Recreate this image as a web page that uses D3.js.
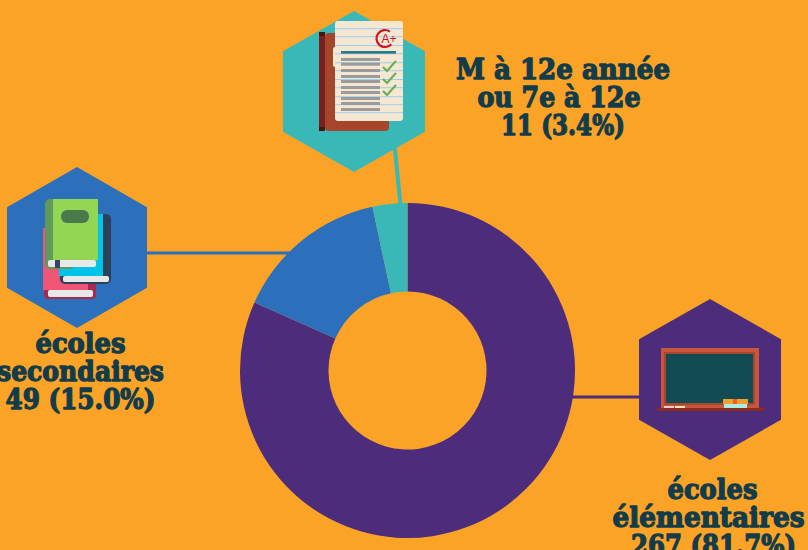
<!DOCTYPE html>
<html lang="fr">
<head>
<meta charset="UTF-8">
<title>Écoles</title>
<style>
  body { margin: 0; background: #fba327; overflow: hidden; }
  svg { display: block; }
  .lbl {
    font-family: "DejaVu Serif", serif;
    font-weight: bold;
    fill: #123c4a;
    stroke: #123c4a;
    stroke-width: 1.3px;
    stroke-linejoin: round;
    text-anchor: middle;
  }
</style>
</head>
<body>
<div id="chart"></div>
<script src="https://cdn.jsdelivr.net/npm/d3@7"></script>
<script>
const categories = ['écoles élémentaires', 'écoles secondaires', 'M à 12e année ou 7e à 12e'];
const counts = [267, 49, 11];
const sliceColors = ['#4e2c7c', '#2c6fba', '#3ab8b8'];
const labelLines = [
  ['écoles', 'élémentaires', '267 (81.7%)'],
  ['écoles', 'secondaires', '49 (15.0%)'],
  ['M à 12e année', 'ou 7e à 12e', '11 (3.4%)']
];
// measured line widths, the original face is narrower than DejaVu Serif
const labelWidths = [
  [90, 192, 165],
  [90, 167, 150],
  [214, 163, 124]
];

const w = 808, h = 550;
const svg = d3.select('#chart').append('svg').attr('width', w).attr('height', h);

// connectors go under the donut and the hexagons
const connectors = [
  { c: 0, x1: 565, y1: 397, x2: 645, y2: 397, sw: 3 },
  { c: 1, x1: 140, y1: 253, x2: 300, y2: 253, sw: 3 },
  { c: 2, x1: 394, y1: 140, x2: 401, y2: 210, sw: 4 }
];
svg.selectAll('line.conn').data(connectors).enter().append('line')
  .attr('class', 'conn')
  .attr('x1', d => d.x1).attr('y1', d => d.y1)
  .attr('x2', d => d.x2).attr('y2', d => d.y2)
  .attr('stroke', d => sliceColors[d.c])
  .attr('stroke-width', d => d.sw);

// donut
const pie = d3.pie().sort(null).value(d => d);
const arc = d3.arc().innerRadius(79).outerRadius(167.5);
svg.append('g')
  .attr('transform', 'translate(407.5,370.5)')
  .selectAll('path')
  .data(pie(counts))
  .enter().append('path')
  .attr('d', arc)
  .attr('fill', (d, i) => sliceColors[i]);

// hexagons
const hexes = [
  { c: 0, cx: 710, cy: 379.5 },
  { c: 1, cx: 77, cy: 247.5, rx: 70 },
  { c: 2, cx: 354, cy: 91.5 }
];
const hexLine = d3.line();
svg.selectAll('path.hex').data(hexes).enter().append('path')
  .attr('class', 'hex')
  .attr('fill', d => sliceColors[d.c])
  .attr('d', d => {
    const rx = d.rx || 71, ry = 80.5;
    return hexLine([
      [d.cx, d.cy - ry], [d.cx + rx, d.cy - ry / 2], [d.cx + rx, d.cy + ry / 2],
      [d.cx, d.cy + ry], [d.cx - rx, d.cy + ry / 2], [d.cx - rx, d.cy - ry / 2]
    ]) + 'Z';
  });

function rects(list) {
  svg.append('g').selectAll('rect').data(list).enter().append('rect')
    .attr('x', d => d[0]).attr('y', d => d[1])
    .attr('width', d => d[2]).attr('height', d => d[3])
    .attr('fill', d => d[4])
    .attr('rx', d => d[5] || 0);
}

// exam paper icon
rects([
  [325, 33, 64, 98, '#a5452a', 4],
  [319, 32, 6, 99, '#7a1f1f'],
  [319, 32, 6, 4, '#4f1212'],
  [319, 127, 6, 4, '#4f1212'],
  [333, 47, 6, 20, '#f6e7d2', 2],
  [335, 21, 68, 100, '#f6e7d2', 3]
]);
rects([28.3, 36.3, 45, 53.3, 62.3, 70.3, 79, 87.3, 96.3, 104.3, 112.3]
  .map(y => [335, y, 68, 0.9, '#93cdf0']));
rects([[341, 51, 55, 2.7, '#2a7a8c']]);
rects([58, 62.7, 69, 75, 80, 86, 91, 97, 102, 108]
  .map(y => [341, y, 39, 3, '#9b9b9b']));
svg.append('g').selectAll('path').data([71, 83, 95]).enter().append('path')
  .attr('d', y => `M383,${y - 4}l4,4l9,-10`)
  .attr('fill', 'none').attr('stroke', '#6bae5a').attr('stroke-width', 2.2);
svg.append('path').attr('d', d3.arc()({ innerRadius: 7.4, outerRadius: 9.6, startAngle: 2.3, endAngle: 6.9 }))
  .attr('transform', 'translate(385,38.5)').attr('fill', '#d5101c');
svg.append('text').attr('x', 389).attr('y', 43).attr('text-anchor', 'middle')
  .attr('font-family', 'Liberation Sans').attr('font-size', 12).attr('fill', '#d5101c').text('A+');

// books icon
rects([
  [44, 232, 52, 67, '#a52c50', 4],
  [43, 228, 45, 62, '#ef5675'],
  [48, 290, 45, 7, '#e8e8e8', 2],
  [60, 214, 51, 70, '#2d4159', 5],
  [59, 214, 44, 62, '#00c4e8'],
  [63, 276, 46, 6, '#e8e8e8', 2],
  [45, 199, 30, 70, '#5f9a5a', 5],
  [53, 199, 45, 61, '#93d655'],
  [48, 260, 48, 7, '#e8e8e8', 2],
  [55, 260, 5, 8, '#3a4466'],
  [61, 210, 28, 13, '#4a7a4a', 6]
]);

// chalkboard icon
rects([
  [661, 348, 98, 60, '#c8553d'],
  [664, 352, 91, 53, '#a5482d'],
  [666, 354, 87, 49, '#134b55'],
  [723, 399, 25, 5, '#f0a030'],
  [724, 404, 23, 4, '#a8eee5'],
  [733, 399, 4, 5, '#f25c1e'],
  [664, 406, 10, 2, '#f0c8d0'],
  [675, 406, 10, 2, '#fbe3b0'],
  [657, 408, 107, 3, '#8b2a1f']
]);

// labels
const labelPos = [
  { x: 708.5, y: 499 },
  { x: 80.5, y: 353 },
  { x: 563, y: 79 }
];
const lineOffsetX = { 0: [4, 0, 5], 2: [0, -4, 0] };
labelLines.forEach((lines, i) => {
  svg.append('g').selectAll('text').data(lines).enter().append('text')
    .attr('class', 'lbl')
    .attr('font-size', 27)
    .attr('x', (d, j) => labelPos[i].x + (lineOffsetX[i] ? lineOffsetX[i][j] : 0))
    .attr('y', (d, j) => labelPos[i].y + j * 28)
    .attr('textLength', (d, j) => labelWidths[i][j])
    .attr('lengthAdjust', 'spacingAndGlyphs')
    .text(d => d);
});
</script>
</body>
</html>
